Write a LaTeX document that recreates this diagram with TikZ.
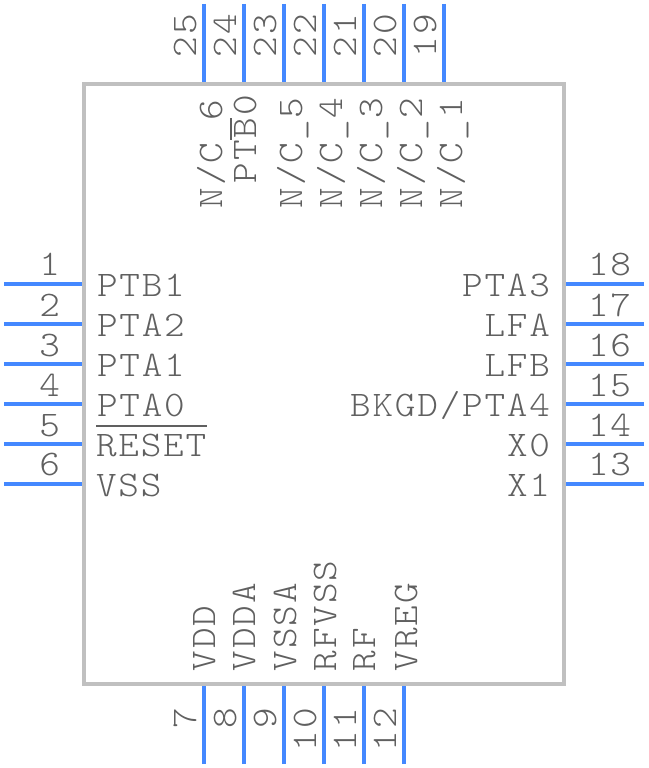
\documentclass[tikz,border=0pt]{standalone}
\usepackage{fontspec}
\setmonofont[FakeStretch=1.09,LetterSpace=5]{Latin Modern Mono Light}
\definecolor{bodygray}{HTML}{C0C0C0}
\definecolor{pinblue}{HTML}{4488FF}
\definecolor{txtgray}{HTML}{606060}
\tikzset{
  x=1pt,y=-1pt,
  chipbody/.style={minimum width=480pt,minimum height=600pt,inner sep=0pt,outer sep=0pt},
  bodyline/.style={draw=bodygray,line width=4pt},
  pinline/.style={draw=pinblue,line width=4pt},
  barline/.style={draw=txtgray,line width=2pt},
  lbl/.style={inner sep=0pt,outer sep=0pt,text=txtgray,font=\fontsize{36}{36}\ttfamily},
  lw/.style={lbl,anchor=base west},
  le/.style={lbl,anchor=base east},
  rw/.style={lbl,anchor=base west,rotate=90},
  re/.style={lbl,anchor=base east,rotate=90},
}
\begin{document}
\begin{tikzpicture}
\useasboundingbox (0,0) rectangle (648,768);
\node[chipbody] (body) at (324,384) {};
% left pins
\foreach \n/\y in {1/284,2/324,3/364,4/404,5/444,6/484}{
  \coordinate (p\n) at (4,\y);
  \draw[pinline] (p\n) -- (p\n -| body.west);
}
% right pins
\foreach \n/\y in {18/284,17/324,16/364,15/404,14/444,13/484}{
  \coordinate (p\n) at (644,\y);
  \draw[pinline] (p\n) -- (p\n -| body.east);
}
% top pins
\foreach \n/\x in {25/204,24/244,23/284,22/324,21/364,20/404,19/444}{
  \coordinate (p\n) at (\x,4);
  \draw[pinline] (p\n) -- (p\n |- body.north);
}
% bottom pins
\foreach \n/\x in {7/204,8/244,9/284,10/324,11/364,12/404}{
  \coordinate (p\n) at (\x,764);
  \draw[pinline] (p\n) -- (p\n |- body.south);
}
\draw[bodyline] (body.south west) rectangle (body.north east);
% pin numbers
\foreach \n/\y in {1/275,2/316,3/356,4/396,5/436,6/475}
  \node[le] (num\n) at (60,\y) {\n};
\foreach \n/\y in {18/275,17/316,16/356,15/396,14/436,13/475}
  \node[lw] (num\n) at (588,\y) {\n};
\foreach \n/\x in {25/196,24/236,23/276,22/316,21/356,20/396,19/436}
  \node[rw] (num\n) at (\x,57) {\n};
\foreach \n/\x in {7/196,8/236,9/276,10/316,11/356,12/396}
  \node[re] (num\n) at (\x,708) {\n};
% left labels
\node[lw] (lPTBone) at (97,296) {PTB1};
\node[lw] (lPTAtwo) at (97,336) {PTA2};
\node[lw] (lPTAone) at (97,376) {PTA1};
\node[lw] (lPTAzero) at (97,416) {PTA0};
\node[lw] (lRESET) at (96,456) {RESET};
\node[lw] (lVSS) at (96,496) {VSS};
\coordinate (rsA) at (96,426);
\coordinate (rsB) at (207,426);
\draw[barline] (rsA) -- (rsB);
% right labels
\node[le] (lPTAthree) at (550,296) {PTA3};
\node[le] (lLFA) at (550,336) {LFA};
\node[le] (lLFB) at (550,376) {LFB};
\node[le] (lBKGD) at (550,416) {BKGD/PTA4};
\node[le] (lXzero) at (550,456) {X0};
\node[le] (lXone) at (550,496) {X1};
% top labels
\node[rw] (lNCsix) at (222,208) {N/C 6};
\node[rw] (lPTBzero) at (256,183) {PTB0};
\coordinate (ptA) at (231,118);
\coordinate (ptB) at (231,140);
\draw[barline] (ptA) -- (ptB);
\node[rw] (lNCfive) at (302,208) {N/C\_5};
\node[rw] (lNCfour) at (342,208) {N/C\_4};
\node[rw] (lNCthree) at (382,208) {N/C\_3};
\node[rw] (lNCtwo) at (422,208) {N/C\_2};
\node[rw] (lNCone) at (462,208) {N/C\_1};
% bottom labels
\node[rw] (lVDD) at (215,671) {VDD};
\node[rw] (lVDDA) at (255,671) {VDDA};
\node[rw] (lVSSA) at (296,671) {VSSA};
\node[rw] (lRFVSS) at (336,671) {RFVSS};
\node[rw] (lRF) at (375,671) {RF};
\node[rw] (lVREG) at (417,671) {VREG};
\end{tikzpicture}
\end{document}
